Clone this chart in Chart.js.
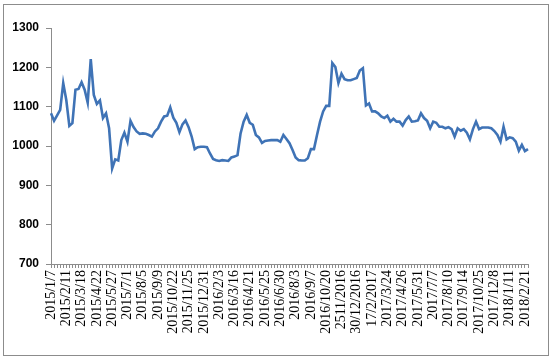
<!DOCTYPE html>
<html>
<head>
<meta charset="utf-8">
<script src="https://cdn.jsdelivr.net/npm/chart.js@4/dist/chart.umd.min.js"></script>
<style>
  html, body { margin: 0; padding: 0; background: #ffffff; }
  #wrap { position: relative; width: 551px; height: 357px; }
  canvas { position: absolute; left: 0; top: 0; }
</style>
</head>
<body>
<div id="wrap"><canvas id="c" width="551" height="357"></canvas></div>
<script>
// Tick labels shown every 5th weekly observation
const tickLabels = [
  '2015/1/7','2015/2/11','2015/3/18','2015/4/22','2015/5/27','2015/7/1','2015/8/5','2015/9/9',
  '2015/10/22','2015/11/25','2015/12/31','2016/2/3','2016/3/16','2016/4/21','2016/5/25','2016/6/30',
  '2016/8/3','2016/9/7','2016/10/20','2511/2016','30/12/2016','17/2/2017','2017/3/24','2017/4/26',
  '2017/5/31','2017/7/7','2017/8/10','2017/9/14','2017/10/25','2017/12/8','2018/1/11','2018/2/21'
];
const labelEvery = 5;

// Series values
const values = [
  1083,1064,1078,1092,1160,1117,1051,1058,1143,1145,
  1162,1143,1110,1221,1130,1107,1116,1071,1083,1045,
  943,966,963,1015,1034,1011,1064,1048,1037,1031,
  1032,1031,1028,1024,1037,1045,1062,1075,1077,1098,
  1072,1059,1035,1055,1065,1048,1024,992,997,998,
  998,997,981,967,964,962,964,963,962,971,
  973,977,1032,1062,1079,1059,1054,1028,1022,1008,
  1013,1014,1015,1015,1015,1011,1028,1018,1007,990,
  971,964,963,963,969,992,992,1028,1062,1088,
  1102,1102,1211,1201,1160,1184,1170,1167,1167,1170,
  1173,1192,1198,1103,1108,1088,1088,1083,1075,1071,
  1077,1062,1069,1062,1062,1052,1066,1075,1062,1063,
  1065,1083,1071,1064,1045,1062,1059,1049,1049,1045,
  1048,1043,1024,1045,1039,1043,1034,1017,1043,1062,
  1043,1047,1047,1047,1045,1038,1028,1011,1049,1017,
  1022,1020,1011,988,1003,987,992
];

const yMin = 700, yMax = 1300, yStep = 100;

const categories = values.map((v, i) => (i % labelEvery === 0 && tickLabels[i / labelEvery]) ? tickLabels[i / labelEvery] : '');

const frame = {
  id: 'frame',
  beforeDraw(chart) {
    const ctx = chart.ctx;
    ctx.save();
    ctx.fillStyle = '#ffffff';
    ctx.fillRect(0, 0, chart.width, chart.height);
    ctx.strokeStyle = '#8c8c8c';
    ctx.lineWidth = 1;
    ctx.strokeRect(3.5, 4.5, 545, 351);
    ctx.restore();
  }
};

new Chart(document.getElementById('c'), {
  type: 'line',
  data: {
    labels: categories,
    datasets: [{
      data: values,
      borderColor: '#3f73b6',
      borderWidth: 2.6,
      pointRadius: 0,
      tension: 0,
      fill: false
    }]
  },
  options: {
    responsive: false,
    animation: false,
    devicePixelRatio: 1,
    layout: { padding: { top: 28, right: 23, left: 0, bottom: 0 } },
    plugins: { legend: { display: false }, tooltip: { enabled: false } },
    scales: {
      x: {
        type: 'category',
        offset: false,
        border: { display: true, color: '#8c8c8c', width: 1 },
        grid: { display: true, drawOnChartArea: false, drawTicks: true, tickLength: 4, color: '#8c8c8c' },
        ticks: {
          autoSkip: false,
          maxRotation: 90,
          minRotation: 90,
          padding: 2,
          color: '#000000',
          font: { family: "'Liberation Serif', 'Times New Roman', serif", size: 14 }
        },
        afterFit(scale) { scale.height = 357 - 264; }
      },
      y: {
        min: yMin,
        max: yMax,
        border: { display: true, color: '#8c8c8c', width: 1 },
        grid: { display: true, drawOnChartArea: false, drawTicks: true, tickLength: 5, color: '#8c8c8c' },
        ticks: {
          stepSize: yStep,
          padding: 7,
          color: '#000000',
          font: { family: "'Liberation Sans', Arial, sans-serif", size: 12, weight: 'bold' },
          callback: (v) => String(v)
        },
        afterFit(scale) { scale.width = 51; }
      }
    }
  },
  plugins: [frame]
});
</script>
</body>
</html>
